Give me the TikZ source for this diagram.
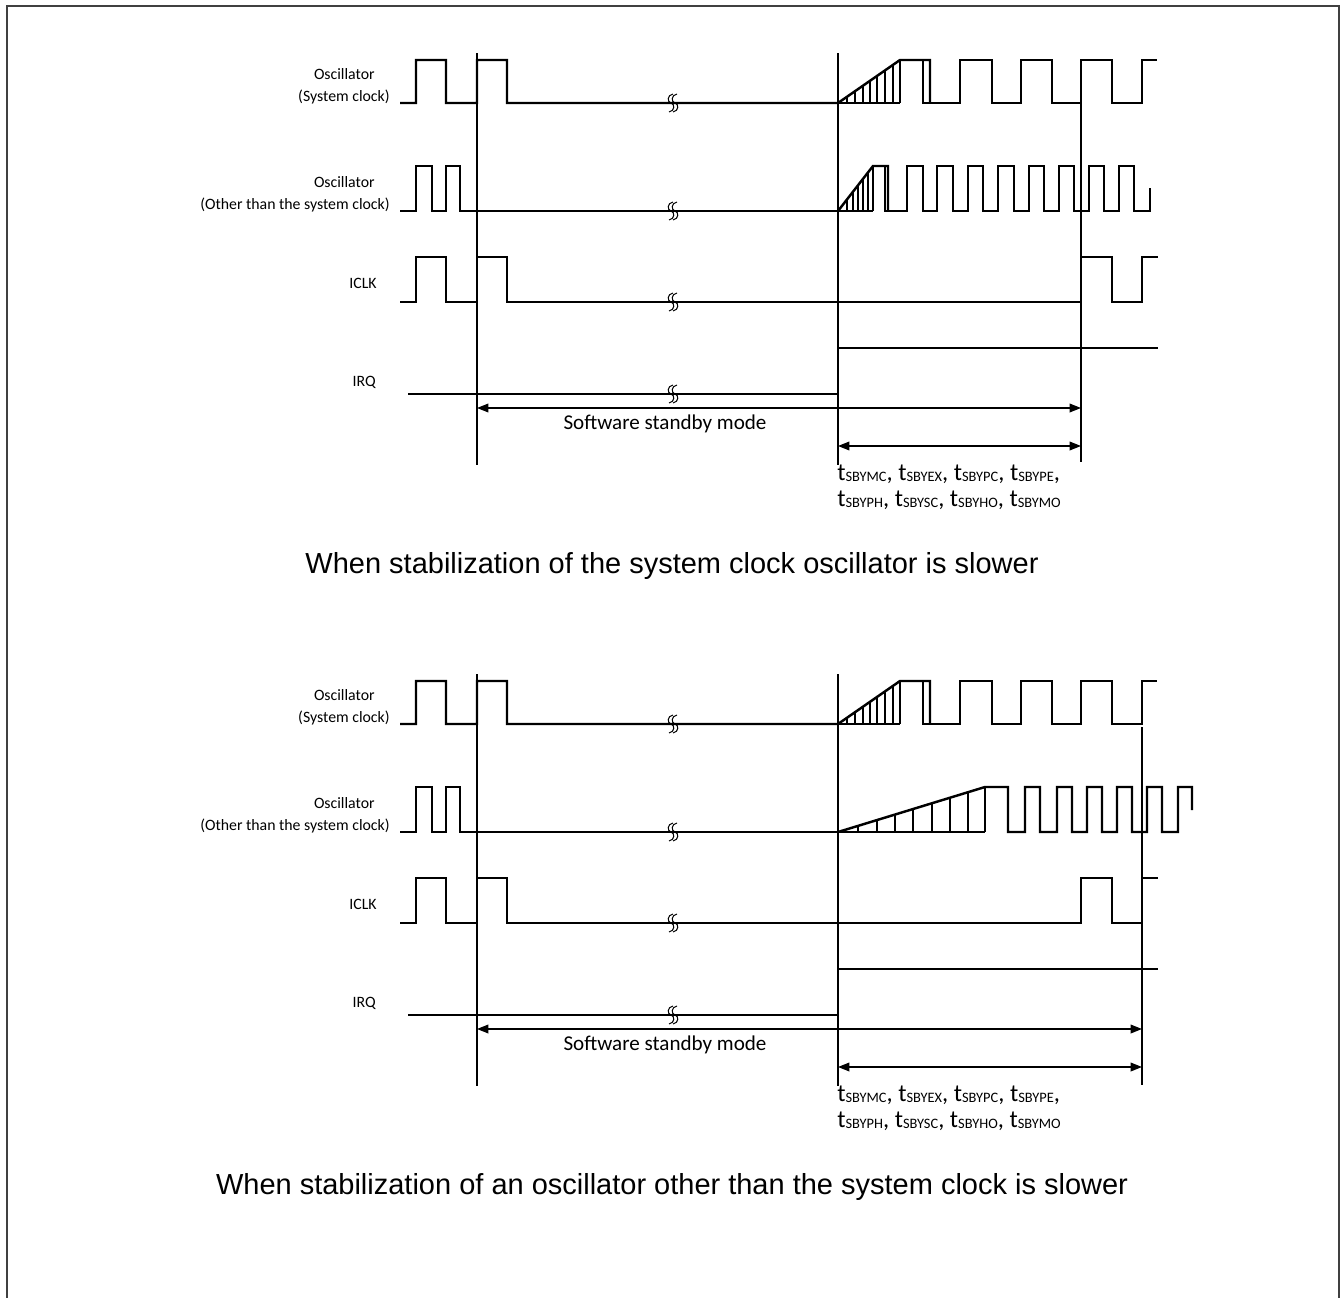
\documentclass[tikz,border=0pt]{standalone}
\usepackage{fontspec}
\setmainfont{Carlito}
\newfontfamily\titlefont{Liberation Sans}
\usetikzlibrary{arrows.meta}

\newcommand{\tsby}[1]{t\raisebox{-0.15ex}{\fontsize{8.2}{9}\selectfont SBY#1}}
\newcommand{\brkmark}[2]{%
  \foreach \cx in {#1-2,#1+2}
    \draw[guide] ({\cx+2},{#2-9}) .. controls ({\cx-4},{#2-8}) and ({\cx-4},{#2-1}) .. (\cx,#2)
                 .. controls ({\cx+4},{#2+1}) and ({\cx+4},{#2+8}) .. ({\cx-2},{#2+9});
}

\tikzset{
  sig/.style={line width=1.4pt, line join=miter},
  hatch/.style={line width=0.7pt},
  guide/.style={line width=0.6pt},
  frame/.style={line width=1.1pt, black!75},
  span/.style={line width=0.7pt, {Triangle[length=6.5pt,width=5pt]}-{Triangle[length=6.5pt,width=5pt]}},
  rowlabel/.style={anchor=east, inner sep=0pt, font=\fontsize{9}{10}\selectfont},
  caption/.style={font=\titlefont\fontsize{16.5}{20}\selectfont},
}

\begin{document}
\begin{tikzpicture}[x=0.02cm, y=-0.02cm]
	\useasboundingbox (0,0) rectangle (1343,1298);
	\draw[frame] (7,1298) -- (7,6) -- (1339,6) -- (1339,1298);

	% rows shared by both charts
	\foreach \dy in {0,621}
	{
		\begin{scope}[shift={(0,\dy)}]
			\node[rowlabel] (oscA\dy) at (375,74) {Oscillator};
			\node[rowlabel] (sysA\dy) at (390,97) {(System clock)};
			\node[rowlabel] (oscB\dy) at (375,182) {Oscillator};
			\node[rowlabel] (sysB\dy) at (390,205) {(Other than the system clock)};
			\node[rowlabel] (iclk\dy) at (377,283) {ICLK};
			\node[rowlabel] (irq\dy) at (376,382) {IRQ};

			\draw[guide] (477,53) -- (477,465);
			\draw[guide] (838,53) -- (838,465);

			% system clock oscillator
			\draw[sig] (400,103) -| (416,60) -| (446,103) -| (477,60) -| (507,103) -- (838,103) -- (900,60) -- (930,60) -- (930,103);
			\draw[sig] (838,103) -- (900,103);
			\draw[sig] (923,60) -- (923,103) -| (960,60) -| (992,103) -| (1021,60) -| (1052,103) -| (1081,60) -| (1112,103) -| (1142,60) -- (1157,60);
			\foreach \x in {847,855,863,870,877,885,893,900}
			{
				\draw[hatch] (\x,103) -- (\x,{103-43*(\x-838)/62});
			}

			% other oscillator, before standby
			\draw[sig] (400,211) -| (416,166) -| (432,211) -| (446,166) -| (460,211) -- (838,211);

			% ICLK and IRQ
			\draw[sig] (400,302) -| (416,257) -| (446,302) -| (477,257) -| (507,302) -| (1081,257) -| (1112,302) -| (1142,257) -- (1158,257);
			\draw[sig] (408,394) -| (838,348) -- (1158,348);

			\brkmark{673}{103}
			\brkmark{673}{211}
			\brkmark{673}{302}
			\brkmark{673}{394}

			\node[font=\fontsize{12}{14}\selectfont] (sbm\dy) at (665,424) {Software standby mode};
			\node[anchor=west, inner sep=0pt, font=\fontsize{14}{16}\selectfont] (tla\dy) at (837,474) {\tsby{MC}, \tsby{EX}, \tsby{PC}, \tsby{PE},};
			\node[anchor=west, inner sep=0pt, font=\fontsize{14}{16}\selectfont] (tlb\dy) at (837,500) {\tsby{PH}, \tsby{SC}, \tsby{HO}, \tsby{MO}};
		\end{scope}
	}

	% upper chart: system clock oscillator is slower
	\draw[sig] (838,211) -- (873,166) -- (888,166) -- (888,211);
	\draw[sig] (838,211) -- (873,211);
	\draw[sig] (885,166) -- (885,211) -| (907,166) -| (923,211) -| (937,166) -| (953,211) -| (968,166) -| (983,211) -| (998,166) -| (1014,211) -| (1029,166) -| (1044,211) -| (1059,166) -| (1074,211) -| (1089,166) -| (1104,211) -| (1119,166) -| (1134,211) -| (1150,188);
	\foreach \x in {847,853,858,863,868,873}
	{
		\draw[hatch] (\x,211) -- (\x,{211-45*(\x-838)/35});
	}
	\draw[guide] (1081,103) -- (1081,462);
	\coordinate (swA) at (477,408);
	\coordinate (swB) at (1081,408);
	\draw[span] (swA) -- (swB);
	\coordinate (tsA) at (838,446);
	\coordinate (tsB) at (1081,446);
	\draw[span] (tsA) -- (tsB);
	\node[caption] (capA) at (672,566) {When stabilization of the system clock oscillator is slower};

	% lower chart: other oscillator is slower
	\draw[sig] (838,832) -- (985,787) -| (1008,832) -| (1025,787) -| (1040,832) -| (1057,787) -| (1072,832) -| (1087,787) -| (1102,832) -| (1117,787) -| (1132,832) -| (1147,787) -| (1162,832) -| (1178,787) -- (1192,787) -- (1192,810);
	\draw[sig] (838,832) -- (985,832);
	\foreach \x in {858,877,895,913,932,950,968,985}
	{
		\draw[hatch] (\x,832) -- (\x,{832-45*(\x-838)/147});
	}
	\draw[guide] (1142,727) -- (1142,1085);
	\coordinate (swC) at (477,1029);
	\coordinate (swD) at (1142,1029);
	\draw[span] (swC) -- (swD);
	\coordinate (tsC) at (838,1067);
	\coordinate (tsD) at (1142,1067);
	\draw[span] (tsC) -- (tsD);
	\node[caption] (capB) at (672,1187) {When stabilization of an oscillator other than the system clock is slower};
\end{tikzpicture}
\end{document}
